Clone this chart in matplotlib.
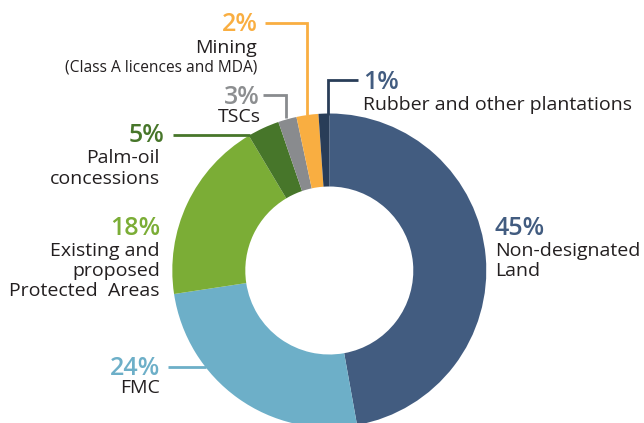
import matplotlib.pyplot as plt

categories = ["Non-designated\nLand", "FMC", "Existing and\nproposed\nProtected  Areas",
              "Palm-oil\nconcessions", "TSCs", "Mining", "Rubber and other plantations"]
slice_sizes = [47.1, 25.4, 18.8, 3.3, 1.9, 2.25, 1.1]
pct_labels = ["45%", "24%", "18%", "5%", "3%", "2%", "1%"]
colors = ["#425c80", "#6dafc8", "#7bad36", "#47762a", "#898b8e", "#f9ae41", "#293d58"]
pct_colors = ["#425c80", "#6dafc8", "#7bad36", "#47762a", "#8c8e90", "#f9ae41", "#425c80"]

W, H = 644, 423
fig = plt.figure(figsize=(W / 100, H / 100), dpi=100)
ax = fig.add_axes([0, 0, 1, 1])

cx, cy = 329.3, H - 270.5
R, r_in = 157, 84
ax.pie(slice_sizes, colors=colors, startangle=90, counterclock=False,
       radius=R, center=(cx, cy), wedgeprops=dict(width=R - r_in, linewidth=0))
ax.set_xlim(0, W)
ax.set_ylim(0, H)
ax.axis("off")

font = "Open Sans"
pct_kw = dict(fontsize=18, fontweight="semibold", family=font, va="baseline")
lab_kw = dict(fontsize=14, color="#231f20", family=font, va="baseline")
PITCH = 20.3


def Y(p):
    return H - p


# leader lines, picture pixel coords
leaders = {
    6: [(327.7, 115), (327.7, 80), (358, 80)],
    5: [(307, 115), (307, 22.5), (265, 22.5)],
    4: [(285.7, 118), (285.7, 95), (263, 95)],
    3: [(250, 135), (173, 135)],
    1: [(206, 367), (168, 367)],
}
for i, pts in leaders.items():
    ax.plot([p[0] for p in pts], [Y(p[1]) for p in pts], color=colors[i], lw=2,
            solid_capstyle="butt", solid_joinstyle="miter")


def label(i, x, pct_base, text_base, ha, pct_x=None):
    ax.text(pct_x if pct_x is not None else x, Y(pct_base), pct_labels[i],
            color=pct_colors[i], ha=ha, **pct_kw)
    for k, line in enumerate(categories[i].split("\n")):
        ax.text(x, Y(text_base + k * PITCH), line, ha=ha, **lab_kw)


label(0, 495, 235, 255.7, "left")
label(1, 160, 375, 393.3, "right")
label(2, 160, 235, 255.5, "right")
label(3, 160, 142, 163.3, "right", pct_x=164.3)
label(4, 260.5, 104, 121.7, "right", pct_x=259.3)
label(5, 257.3, 30.7, 52.7, "right")
ax.text(257.3, Y(71.5), "(Class A licences and MDA)", ha="right", va="baseline",
        fontsize=11.2, color="#231f20", family=font)
label(6, 363.3, 89.3, 110, "left")

fig.savefig("out.png", dpi=100)
